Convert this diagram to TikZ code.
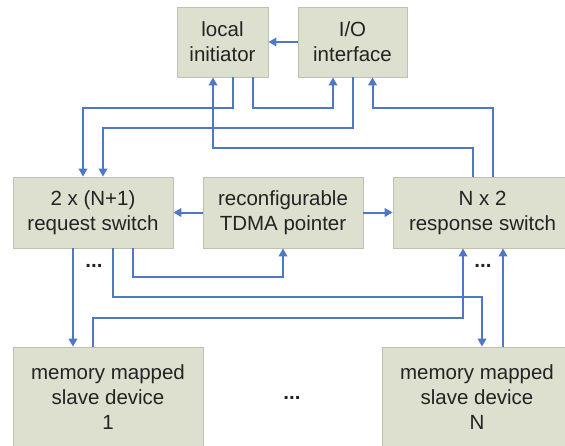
\documentclass[tikz,border=0pt]{standalone}
\usepackage{fontspec}
\setmainfont{Liberation Sans}
\usetikzlibrary{arrows.meta}
\definecolor{boxfill}{RGB}{221,224,206}
\definecolor{boxline}{RGB}{190,193,175}
\definecolor{wire}{RGB}{78,120,198}
\definecolor{ink}{RGB}{35,35,35}
\tikzset{
  block/.style={draw=boxline, line width=0.8pt, fill=boxfill, inner sep=0pt,
    align=center, text=ink, font=\fontsize{20.5}{25}\selectfont},
  conn/.style={draw=wire, line width=2pt,
    -{Triangle[length=8pt,width=8.5pt]}},
  dots/.style={text=ink, inner sep=0pt, font=\fontsize{20.5}{25}\selectfont\bfseries}
}
\begin{document}
\begin{tikzpicture}[x=1pt, y=-1pt]
  \useasboundingbox (0,0) rectangle (565,445);
  \fill[white] (0,0) rectangle (565,445);
  \begin{scope}
  \clip (0,0) rectangle (565,445);

  % blocks
  \node[block, minimum width=91pt, minimum height=70pt]  (li)   at (222.5,42)  {local\\initiator};
  \node[block, minimum width=109pt, minimum height=70pt] (io)   at (352.5,42)  {I/O\\interface};
  \node[block, minimum width=160pt, minimum height=71pt] (req)  at (93,212.5)  {2 x (N+1)\\request switch};
  \node[block, minimum width=160pt, minimum height=71pt] (tdma) at (283,212.5) {reconfigurable\\TDMA pointer};
  \node[block, minimum width=179pt, minimum height=71pt] (resp) at (482.5,212.5) {N x 2\\response switch};
  \node[block, minimum width=190pt, minimum height=100pt] (s1) at (108,397) {memory mapped\\slave device\\1};
  \node[block, minimum width=190pt, minimum height=100pt] (sN) at (477,397) {memory mapped\\slave device\\N};

  % ellipses
  \node[dots] (d1) at (94,266) {...};
  \node[dots] (d2) at (483,266) {...};
  \node[dots] (d3) at (292,398) {...};

  % horizontal links
  \draw[conn] (io.west) -- (li.east);
  \draw[conn] (tdma.west) -- (req.east);
  \draw[conn] (tdma.east) -- (resp.west);

  % upper links
  \draw[conn] ([xshift=10.5pt]li.south) -- ++(0,31) -| ([xshift=-10pt]req.north);
  \draw[conn] ([xshift=30.5pt]li.south) -- ++(0,31) -| ([xshift=-19.5pt]io.south);
  \draw[conn] ([xshift=0.5pt]io.south) -- ++(0,51) -| ([xshift=10pt]req.north);
  \draw[conn] ([xshift=-9.5pt]resp.north) -- ++(0,-29) -| ([xshift=-9.5pt]li.south);
  \draw[conn] ([xshift=10.5pt]resp.north) -- ++(0,-69) -| ([xshift=20pt]io.south);

  % lower links
  \draw[conn] ([xshift=-20pt]req.south) -- ([xshift=-35pt]s1.north);
  \draw[conn] ([xshift=40pt]req.south) -- ++(0,29) -| (tdma.south);
  \draw[conn] ([xshift=20pt]req.south) -- ++(0,49) -| ([xshift=5pt]sN.north);
  \draw[conn] ([xshift=-15pt]s1.north) -- ++(0,-29) -| ([xshift=-19.5pt]resp.south);
  \draw[conn] ([xshift=26pt]sN.north) -- ([xshift=20.5pt]resp.south);
  \end{scope}
\end{tikzpicture}
\end{document}
